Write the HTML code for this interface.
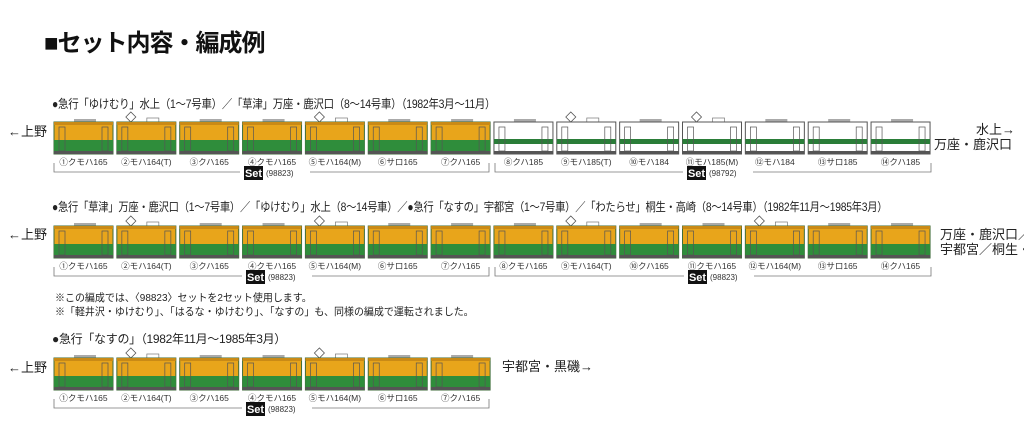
<!DOCTYPE html>
<html><head><meta charset="utf-8"><style>
body{margin:0;background:#fff;width:1024px;height:426px;overflow:hidden;position:relative;font-family:"Liberation Sans","Noto Sans CJK JP",sans-serif;color:#222}
.t{position:absolute;white-space:nowrap;transform-origin:0 0}
.h{left:44px;top:23px;font-size:24px;font-weight:bold;color:#111;letter-spacing:-1px}
.ti{font-size:12px;letter-spacing:-0.3px}
.lb{font-size:13px}
svg{position:absolute;left:0;top:0}
</style></head><body>
<div class="t h">■セット内容・編成例</div>
<div class="t ti" style="left:52px;top:95px;transform:scaleX(0.87)">●急行「ゆけむり」水上（1〜7号車）／「草津」万座・鹿沢口（8〜14号車）（1982年3月〜11月）</div>
<div class="t ti" style="left:52px;top:198px;transform:scaleX(0.86)">●急行「草津」万座・鹿沢口（1〜7号車）／「ゆけむり」水上（8〜14号車）／●急行「なすの」宇都宮（1〜7号車）／「わたらせ」桐生・高崎（8〜14号車）（1982年11月〜1985年3月）</div>
<div class="t" style="left:55px;top:290px;font-size:10.5px;transform:scaleX(0.95)">※この編成では、〈98823〉セットを2セット使用します。</div>
<div class="t" style="left:55px;top:304px;font-size:10.5px;transform:scaleX(0.95)">※「軽井沢・ゆけむり」、「はるな・ゆけむり」、「なすの」も、同様の編成で運転されました。</div>
<div class="t ti" style="left:52px;top:330px">●急行「なすの」（1982年11月〜1985年3月）</div>
<div class="t lb" style="left:8px;top:121px">←上野</div>
<div class="t lb" style="left:8px;top:224px">←上野</div>
<div class="t lb" style="left:8px;top:357px">←上野</div>
<div class="t lb" style="left:976px;top:119px">水上→</div>
<div class="t lb" style="left:934px;top:134px">万座・鹿沢口</div>
<div class="t lb" style="left:940px;top:224px">万座・鹿沢口／水上</div>
<div class="t lb" style="left:940px;top:239px">宇都宮／桐生・高崎</div>
<div class="t lb" style="left:502px;top:356px">宇都宮・黒磯→</div>
<svg id="s" width="1024" height="426"></svg>
<script>
var S='';
var P=62.85,X0=54,W=59,H=32;
function car(x,y,t,pan){
 var s='';
 if(pan){s+='<path d="M'+(x+9)+' '+(y-5)+'l5 -5 5 5 -5 5z" fill="#fff" stroke="#555" stroke-width="0.8"/>';s+='<rect x="'+(x+30)+'" y="'+(y-4)+'" width="12" height="4" fill="#fff" stroke="#777" stroke-width="0.7"/>';}
 else{s+='<rect x="'+(x+20)+'" y="'+(y-3)+'" width="22" height="3" fill="#aaa"/>';}
 if(t==185){
  s+='<rect x="'+x+'" y="'+y+'" width="'+W+'" height="'+H+'" fill="#fff" stroke="#555" stroke-width="1"/>';
  s+='<rect x="'+x+'" y="'+(y+17)+'" width="'+W+'" height="5" fill="#2a7d38"/>';
 }else{
  s+='<rect x="'+x+'" y="'+y+'" width="'+W+'" height="'+H+'" fill="#e8a51b" stroke="#3f6b3a" stroke-width="1"/>';
  s+='<rect x="'+x+'" y="'+y+'" width="'+W+'" height="3" fill="#c98a16"/>';
  s+='<rect x="'+x+'" y="'+(y+18)+'" width="'+W+'" height="12" fill="#2f8d3b"/>';
 }
 s+='<rect x="'+x+'" y="'+(y+29)+'" width="'+W+'" height="3" fill="#555"/>';
 s+='<rect x="'+(x+5)+'" y="'+(y+5)+'" width="6" height="24" fill="none" stroke="#555" stroke-width="0.7"/>';
 s+='<rect x="'+(x+W-11)+'" y="'+(y+5)+'" width="6" height="24" fill="none" stroke="#555" stroke-width="0.7"/>';
 return s;
}
function row(y,types,pans,labels){
 for(var i=0;i<types.length;i++){
  var x=X0+i*P;
  S+=car(x,y,types[i],pans.indexOf(i)>=0);
  S+='<text x="'+(x+W/2)+'" y="'+(y+43)+'" font-size="8.5" text-anchor="middle" fill="#333">'+labels[i]+'</text>';
 }
}
function bracket(x1,x2,y,sx,num){
 S+='<path d="M'+x1+' '+(y-9)+'V'+y+'H'+x2+'V'+(y-9)+'" fill="none" stroke="#777" stroke-width="0.8"/>';
 S+='<rect x="'+(sx-4)+'" y="'+(y-6)+'" width="70" height="14" fill="#fff"/>';
 S+='<rect x="'+sx+'" y="'+(y-6)+'" width="19" height="14" fill="#111"/>';
 S+='<text x="'+(sx+9.5)+'" y="'+(y+5)+'" font-size="11" font-weight="bold" text-anchor="middle" fill="#fff">Set</text>';
 S+='<text x="'+(sx+22)+'" y="'+(y+4)+'" font-size="8" fill="#333">'+num+'</text>';
}
var L165=['①クモハ165','②モハ164(T)','③クハ165','④クモハ165','⑤モハ164(M)','⑥サロ165','⑦クハ165'];
var L185=['⑧クハ185','⑨モハ185(T)','⑩モハ184','⑪モハ185(M)','⑫モハ184','⑬サロ185','⑭クハ185'];
var L2=['⑧クモハ165','⑨モハ164(T)','⑩クハ165','⑪クモハ165','⑫モハ164(M)','⑬サロ165','⑭クハ165'];
var c7=[165,165,165,165,165,165,165];
row(122,c7.concat([185,185,185,185,185,185,185]),[1,4,8,10],L165.concat(L185));
bracket(54,489,172,244,'(98823)');bracket(495,931,172,687,'(98792)');
row(226,c7.concat(c7),[1,4,8,11],L165.concat(L2));
bracket(54,489,276,246,'(98823)');bracket(495,931,276,688,'(98823)');
row(358,c7,[1,4],L165);
bracket(54,489,408,246,'(98823)');
document.getElementById('s').innerHTML=S;
</script>
</body></html>
